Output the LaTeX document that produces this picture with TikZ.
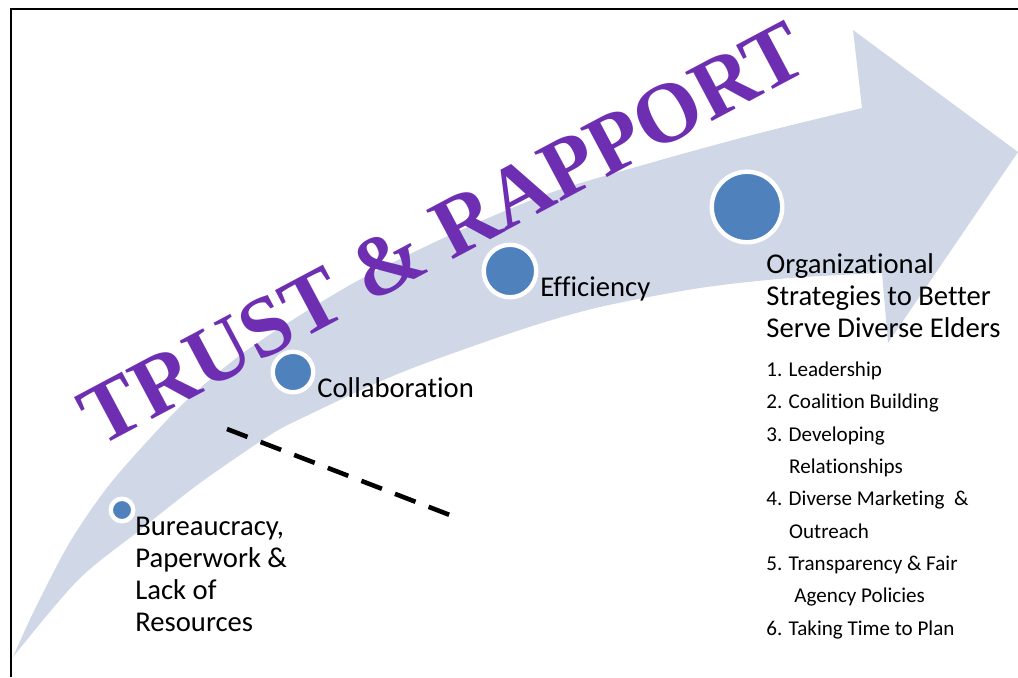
\documentclass[tikz,border=0pt]{standalone}
\usepackage{fontspec}
\usepackage{xcolor}
\setmainfont{Carlito}[Ligatures=NoCommon]
\newfontfamily\rapportfont{Liberation Serif}

\definecolor{bandblue}{RGB}{208,216,232}
\definecolor{stageblue}{RGB}{79,129,189}
\definecolor{rapportpurple}{RGB}{110,46,178}

\begin{document}
\begin{tikzpicture}[x=0.02cm, y=-0.02cm,
  stagedot/.style={circle, fill=stageblue, draw=white, line width=2.5pt, inner sep=0pt},
  stagetext/.style={anchor=base west, inner sep=0pt, align=left, font=\fontsize{16.3}{18.2}\selectfont},
  listtext/.style={anchor=base west, inner sep=0pt, align=left, font=\fontsize{12}{18.4}\selectfont}]
  \useasboundingbox (0,0) rectangle (1018,677);

  % Draw the frame
  \draw[line width=1.7pt] (11,677) -- (11,9) -- (1018,9);

  % Curved arrow
  \fill[bandblue] plot[smooth, tension=0.5] coordinates {(13,657) (33,613) (67,547) (100,497) (133,457) (187,400) (250,348) (350,285) (450,235) (550,193) (650,163) (756,134) (862,108)}
    -- (853,30) -- (1018,152) -- (888,343) -- (882,273)
    -- plot[smooth, tension=0.5] coordinates {(882,273) (790,278) (700,288) (600,307) (520,330) (400,373) (300,419) (267,437) (200,483) (140,530) (78,580) (13,657)} -- cycle;

  % Dashed line
  \coordinate (dashstart) at (227,429);
  \coordinate (dashend) at (455,517);
  \draw[line width=2.6pt, dash pattern=on 12.5pt off 8pt] (dashstart) -- (dashend);

  % Title
  \node[rotate=28, anchor=base, inner sep=0pt, text=rapportpurple, font=\rapportfont\bfseries\fontsize{48.5}{48.5}\selectfont] (rapport) at (456,258) {TRUST \& RAPPORT};

  % Stages
  \node[stagedot, minimum size=0.45cm] (bureaucracy) at (122,510) {};
  \node[stagedot, minimum size=0.81cm] (collaboration) at (293,372) {};
  \node[stagedot, minimum size=1.05cm] (efficiency) at (510,271) {};
  \node[stagedot, minimum size=1.41cm] (strategies) at (747,207) {};

  % labels, placed by the baseline of their last line
  \node[stagetext] (bureaucracytext) at (135,631) {Bureaucracy,\\Paperwork \&\\Lack of\\Resources};
  \node[stagetext] (collaborationtext) at (317,397) {Collaboration};
  \node[stagetext] (efficiencytext) at (540,296) {Efficiency};
  \node[stagetext] (strategiestext) at (766,337) {Organizational\\Strategies to Better\\Serve Diverse Elders};
  \node[listtext] (strategylist) at (766,635) {1. Leadership\\2. Coalition Building\\3. Developing\\\hspace*{13pt}Relationships\\4. Diverse Marketing\ \ \&\\\hspace*{13pt}Outreach\\5. Transparency \& Fair\\\hspace*{16pt}Agency Policies\\6. Taking Time to Plan};
\end{tikzpicture}
\end{document}
